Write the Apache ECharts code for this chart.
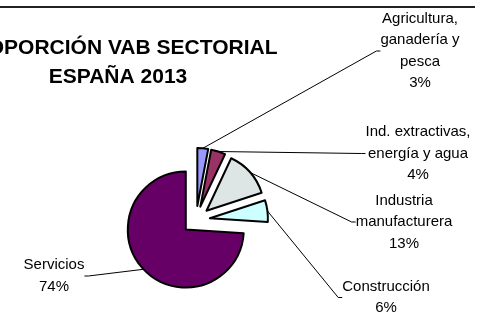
<!DOCTYPE html>
<html>
<head>
<meta charset="utf-8">
<script src="https://cdn.jsdelivr.net/npm/echarts@6/dist/echarts.min.js"></script>
<style>
	html, body { margin: 0; padding: 0; background: #fff; }
	#main { width: 477px; height: 312px; }
</style>
</head>
<body>
<div id="main"></div>
<script>
	// datos del grafico
	var sectores = ['Agricultura,\nganadería y\npesca', 'Ind. extractivas,\nenergía y agua', 'Industria\nmanufacturera', 'Construcción', 'Servicios']
	var valores = [3, 4, 13, 6, 74]
	var colores = ['#9999FF', '#993366', '#DDE5E5', '#CCFFFF', '#660066']

	// posicion de las etiquetas (centro del bloque de texto)
	var etiquetaX = [420, 418, 404, 386, 54]
	var etiquetaY = [51, 153.5, 222, 297.5, 276]

	var datos = []
	var datosEtiq = []
	for (var i = 0; i < sectores.length; i++) {
		datos.push({
			name: sectores[i],
			value: valores[i],
			selected: true,
			itemStyle: { color: colores[i] }
		})
		datosEtiq.push({ name: sectores[i], value: valores[i] })
	}

	var myChart = echarts.init(document.getElementById('main'), null, { renderer: 'canvas' })
	myChart.setOption({
		animation: false,
		backgroundColor: '#FFF',
		title: {
			text: 'PROPORCIÓN VAB SECTORIAL\nESPAÑA 2013',
			left: 118,
			top: 34,
			padding: 0,
			textAlign: 'center',
			textStyle: {
				fontFamily: 'Liberation Sans',
				fontSize: 21,
				fontWeight: 'bold',
				lineHeight: 29,
				color: '#000'
			}
		},
		graphic: [{
			type: 'line',
			shape: { x1: 0, y1: 7, x2: 475, y2: 7 },
			style: { stroke: '#222', lineWidth: 2 }
		}],
		series: [{
			// tarta separada (todas las porciones desplazadas)
			type: 'pie',
			center: [196, 220],
			radius: 58,
			startAngle: 90,
			selectedMode: 'multiple',
			selectedOffset: 14,
			emphasis: { disabled: true },
			itemStyle: { borderColor: '#000', borderWidth: 2 },
			select: { itemStyle: { borderColor: '#000', borderWidth: 2 } },
			label: { show: false },
			labelLine: { show: false },
			data: datos
		}, {
			// capa invisible solo para etiquetas y lineas guia
			type: 'pie',
			center: [196, 220],
			radius: 72,
			startAngle: 90,
			silent: true,
			z: 1,
			emphasis: { disabled: true },
			itemStyle: { color: 'rgba(0,0,0,0)', borderWidth: 0 },
			label: {
				show: true,
				position: 'outside',
				fontFamily: 'Liberation Sans',
				fontSize: 15,
				lineHeight: 21.5,
				color: '#000',
				formatter: function (p) {
					return p.name + '\n' + Math.round(p.percent) + '%'
				}
			},
			labelLine: {
				show: true,
				length: 10,
				length2: 4,
				lineStyle: { color: '#000', width: 1 }
			},
			labelLayout: function (params) {
				var n = params.dataIndex
				return {
					x: etiquetaX[n],
					y: etiquetaY[n],
					align: 'center',
					verticalAlign: 'middle'
				}
			},
			data: datosEtiq
		}]
	})
</script>
</body>
</html>
